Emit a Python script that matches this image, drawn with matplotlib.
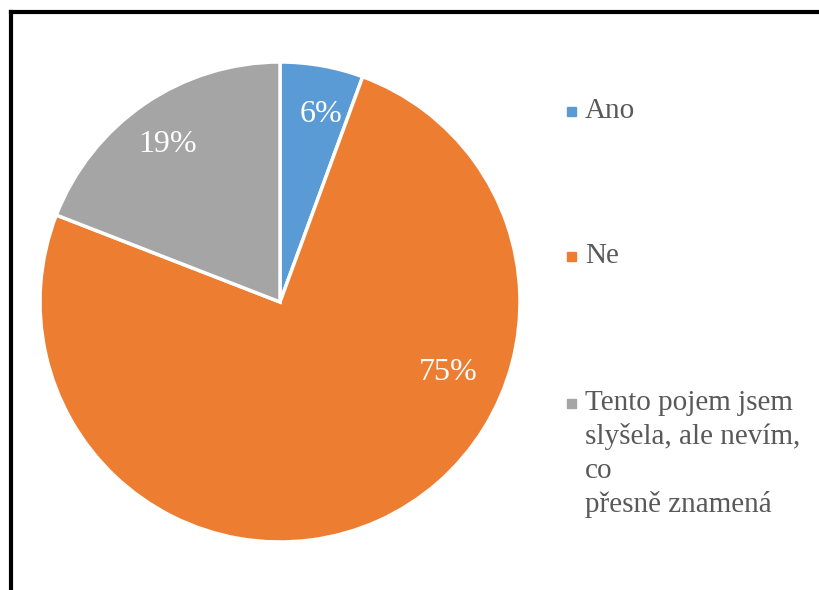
import matplotlib.pyplot as plt
from matplotlib.lines import Line2D

labels = ['Ano', 'Ne', 'Tento pojem jsem\nslyšela, ale nevím,\nco\npřesně znamená']
values = [5.6, 75.3, 19.1]
pct_text = ['6%', '75%', '19%']
colors = ['#5B9BD5', '#ED7D31', '#A5A5A5']

plt.rcParams['font.family'] = ['Liberation Serif', 'DejaVu Serif']

W, H = 819, 590
fig = plt.figure(figsize=(W / 100, H / 100), dpi=100)

# pie area: center ~ (280, 302), radius ~ 240 px
cx, cy, r = 280, 302, 240
ax = fig.add_axes([(cx - r) / W, 1 - (cy + r) / H, 2 * r / W, 2 * r / H])
wedges, _ = ax.pie(values, colors=colors, startangle=90, counterclock=False,
                   wedgeprops=dict(edgecolor='white', linewidth=2.5))
ax.set_xlim(-1, 1)
ax.set_ylim(-1, 1)
ax.set_aspect('equal')

# data labels (positions)
lab_pos = [(0.17, 0.783), (0.70, -0.292), (-0.47, 0.658)]
for (x, y), t in zip(lab_pos, pct_text):
    ax.text(x, y, t, color='white', fontsize=23, ha='center', va='center')

# legend
leg_y = [111, 256, 403]
for lab, col, y in zip(labels, colors, leg_y):
    fig.patches.append(plt.Rectangle((567 / W, 1 - (y + 5) / H), 9 / W, 9 / H,
                                     transform=fig.transFigure, color=col))
    first = lab.split('\n')[0]
    rest = lab.split('\n')[1:]
    fig.text(585 / W, 1 - y / H, first, fontsize=21, color='#595959',
             ha='left', va='center')
    for k, line in enumerate(rest):
        fig.text(585 / W, 1 - (y + 34 * (k + 1)) / H, line, fontsize=21,
                 color='#595959', ha='left', va='center')

# frame: top and left black lines
fig.add_artist(Line2D([11 / W, 1], [1 - 12 / H, 1 - 12 / H], color='black',
                      linewidth=3, transform=fig.transFigure))
fig.add_artist(Line2D([11 / W, 11 / W], [0, 1 - 12 / H], color='black',
                      linewidth=3, transform=fig.transFigure))

fig.savefig('out.png', dpi=100)
